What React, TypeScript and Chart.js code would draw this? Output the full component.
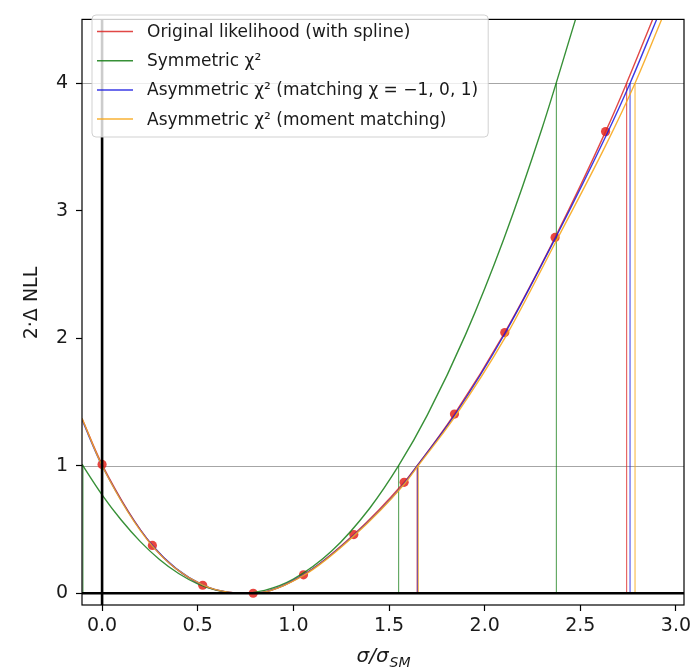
import React, { useEffect, useRef } from 'react';
import { Chart, registerables } from 'chart.js';
Chart.register(...registerables);

// ---- axis ranges & ticks ----
const xRange = [-0.105, 3.042];
const yRange = [-0.092, 4.5];
const xTicks = [0, 0.5, 1, 1.5, 2, 2.5, 3];
const xTickLabels = ['0.0', '0.5', '1.0', '1.5', '2.0', '2.5', '3.0'];
const yTicks = [0, 1, 2, 3, 4];
const yTickLabels = ['0', '1', '2', '3', '4'];
const refLevels = [1, 4];

// ---- data ----
const dotX = [0, 0.263, 0.526, 0.79, 1.053, 1.316, 1.579, 1.842, 2.105, 2.368, 2.632];
const dotY = [1.01, 0.375, 0.063, 0.0, 0.145, 0.46, 0.87, 1.405, 2.045, 2.79, 3.62];

const redX = [-0.105, 0, 0.263, 0.526, 0.79, 1.053, 1.316, 1.579, 1.647, 1.842, 2.105, 2.368, 2.632, 2.742, 2.878];
const redY = [1.37, 1.01, 0.375, 0.063, 0, 0.145, 0.46, 0.87, 1.0, 1.405, 2.045, 2.79, 3.62, 4.0, 4.5];

const greenX = [-0.105, -0.1, 0, 0.1, 0.2, 0.3, 0.4, 0.5, 0.6, 0.725, 0.85, 1.0, 1.2, 1.4, 1.55, 1.7, 1.9, 2.1, 2.3, 2.475];
const greenY = [1.012, 1.0, 0.772, 0.574, 0.405, 0.265, 0.155, 0.074, 0.023, 0, 0.023, 0.111, 0.331, 0.669, 1.0, 1.397, 2.028, 2.778, 3.646, 4.5];

const blueX = [-0.105, 0, 0.263, 0.526, 0.79, 1.053, 1.316, 1.579, 1.648, 1.842, 2.105, 2.368, 2.632, 2.76, 2.899];
const blueY = [1.36, 1.0, 0.375, 0.065, 0, 0.145, 0.455, 0.86, 1.0, 1.395, 2.035, 2.78, 3.58, 4.0, 4.5];

const orangeX = [-0.105, 0, 0.263, 0.526, 0.79, 1.053, 1.316, 1.579, 1.652, 1.842, 2.105, 2.368, 2.632, 2.786, 2.925];
const orangeY = [1.37, 1.0, 0.37, 0.065, 0, 0.14, 0.45, 0.855, 1.0, 1.38, 2.0, 2.745, 3.51, 4.0, 4.5];

// crossing markers (vertical lines from 0 up to level)
const greenCrossX = [-0.1, 1.55, 2.375];
const greenCrossLevel = [1, 1, 4];
const redCrossX = [0.0, 1.647, 2.742];
const redCrossLevel = [1, 1, 4];
const blueCrossX = [0.0, 1.649, 2.76];
const blueCrossLevel = [1, 1, 4];
const orangeCrossX = [0.0, 1.653, 2.786];
const orangeCrossLevel = [1, 1, 4];

const legendLabels = [
  'Original likelihood (with spline)',
  'Symmetric χ²',
  'Asymmetric χ² (matching χ = −1, 0, 1)',
  'Asymmetric χ² (moment matching)',
];

const RED = 'rgba(220,40,38,0.85)';
const GREEN = 'rgba(20,125,20,0.85)';
const BLUE = 'rgba(25,25,225,0.85)';
const ORANGE = 'rgba(247,168,30,0.9)';
const legendColors = [RED, GREEN, BLUE, ORANGE];
const FONT = '"DejaVu Sans", sans-serif';

const pts = (xs: number[], ys: number[]) => xs.map((x, i) => ({ x, y: ys[i] }));
const verts = (xs: number[], lv: number[]) => {
  const out: any[] = [];
  xs.forEach((x, i) => {
    out.push({ x, y: 0 }, { x, y: lv[i] }, { x, y: null });
  });
  return out;
};

const decor = {
  id: 'decor',
  beforeDatasetsDraw(chart: any) {
    const { ctx, chartArea: a, scales } = chart;
    ctx.save();
    ctx.strokeStyle = '#a6a6a6';
    ctx.lineWidth = 1;
    refLevels.forEach((v) => {
      const y = Math.round(scales.y.getPixelForValue(v)) + 0.5;
      ctx.beginPath();
      ctx.moveTo(a.left, y);
      ctx.lineTo(a.right, y);
      ctx.stroke();
    });
    ctx.restore();
  },
  afterDatasetsDraw(chart: any) {
    const { ctx, chartArea: a, scales } = chart;
    ctx.save();
    // thick axes lines at 0
    ctx.strokeStyle = '#000';
    ctx.lineWidth = 2.6;
    const y0 = scales.y.getPixelForValue(0);
    const x0 = scales.x.getPixelForValue(0);
    ctx.beginPath();
    ctx.moveTo(a.left, y0);
    ctx.lineTo(a.right, y0);
    ctx.moveTo(x0, a.top);
    ctx.lineTo(x0, a.bottom);
    ctx.stroke();
    // frame
    ctx.lineWidth = 1.2;
    ctx.strokeRect(a.left, a.top, a.right - a.left, a.bottom - a.top);

    // legend
    ctx.font = `17px ${FONT}`;
    const bx = 92, by = 15, rowY0 = 31.5, dy = 29.2;
    let maxW = 0;
    legendLabels.forEach((t) => { maxW = Math.max(maxW, ctx.measureText(t).width); });
    const bw = 147 + maxW + 10 - bx;
    const bh = 122;
    ctx.beginPath();
    ctx.roundRect(bx, by, bw, bh, 4);
    ctx.fillStyle = 'rgba(255,255,255,0.8)';
    ctx.fill();
    ctx.strokeStyle = 'rgba(204,204,204,0.9)';
    ctx.lineWidth = 1;
    ctx.stroke();
    legendLabels.forEach((t, i) => {
      const yy = rowY0 + i * dy;
      ctx.strokeStyle = legendColors[i];
      ctx.lineWidth = 1.5;
      ctx.beginPath();
      ctx.moveTo(97, yy);
      ctx.lineTo(133, yy);
      ctx.stroke();
      ctx.fillStyle = '#1a1a1a';
      ctx.textAlign = 'left';
      ctx.textBaseline = 'middle';
      ctx.fillText(t, 147, yy + 1);
    });

    // y title
    ctx.save();
    ctx.translate(32, 303);
    ctx.rotate(-Math.PI / 2);
    ctx.font = `19px ${FONT}`;
    ctx.fillStyle = '#1a1a1a';
    ctx.textAlign = 'center';
    ctx.textBaseline = 'middle';
    ctx.fillText('2·Δ NLL', 0, 0);
    ctx.restore();

    // x title  σ/σ_SM
    const main = 'σ/σ';
    const sub = 'SM';
    ctx.font = `italic 20px ${FONT}`;
    const wm = ctx.measureText(main).width;
    ctx.font = `italic 14px ${FONT}`;
    const ws = ctx.measureText(sub).width;
    const cx = (a.left + a.right) / 2;
    const sx = cx - (wm + ws) / 2;
    ctx.fillStyle = '#1a1a1a';
    ctx.textAlign = 'left';
    ctx.textBaseline = 'alphabetic';
    ctx.font = `italic 20px ${FONT}`;
    ctx.fillText(main, sx, 662);
    ctx.font = `italic 14px ${FONT}`;
    ctx.fillText(sub, sx + wm + 1, 667);
    ctx.restore();
  },
};

export default function App() {
  const ref = useRef<HTMLCanvasElement | null>(null);
  useEffect(() => {
    if (!ref.current) return;
    const lineBase = { pointRadius: 0, borderWidth: 1.4, cubicInterpolationMode: 'monotone' as const, fill: false };
    const vertBase = { pointRadius: 0, borderWidth: 1.2, tension: 0, spanGaps: false, fill: false };
    const chart = new Chart(ref.current, {
      type: 'line',
      data: {
        datasets: [
          { label: 'dots', data: pts(dotX, dotY), showLine: false, pointRadius: 4.6, pointBackgroundColor: 'rgba(228,38,30,0.85)', pointBorderWidth: 0, borderColor: 'transparent', order: 10 } as any,
          { label: 'gv', data: verts(greenCrossX, greenCrossLevel), borderColor: 'rgba(20,125,20,0.65)', ...vertBase, order: 9.4 },
          { label: 'rv', data: verts(redCrossX, redCrossLevel), borderColor: 'rgba(220,40,38,0.7)', ...vertBase, order: 9.3 },
          { label: 'bv', data: verts(blueCrossX, blueCrossLevel), borderColor: 'rgba(25,25,225,0.7)', ...vertBase, order: 9.2 },
          { label: 'ov', data: verts(orangeCrossX, orangeCrossLevel), borderColor: 'rgba(247,168,30,0.75)', ...vertBase, order: 9.1 },
          { label: legendLabels[0], data: pts(redX, redY), borderColor: RED, ...lineBase, order: 8 },
          { label: legendLabels[1], data: pts(greenX, greenY), borderColor: GREEN, ...lineBase, order: 7 },
          { label: legendLabels[2], data: pts(blueX, blueY), borderColor: BLUE, ...lineBase, order: 6 },
          { label: legendLabels[3], data: pts(orangeX, orangeY), borderColor: ORANGE, ...lineBase, order: 5 },
        ],
      },
      options: {
        responsive: false,
        animation: false,
        events: [],
        layout: { padding: { top: 8, right: 12, left: 0, bottom: 0 } },
        plugins: { legend: { display: false }, tooltip: { enabled: false } },
        scales: {
          x: {
            type: 'linear',
            min: xRange[0],
            max: xRange[1],
            afterBuildTicks: (s: any) => { s.ticks = xTicks.map((v) => ({ value: v })); },
            afterFit: (s: any) => { s.height = 66; },
            ticks: {
              callback: (v: any, i: number) => xTickLabels[i],
              color: '#1a1a1a',
              font: { family: FONT, size: 19 },
              padding: 4,
              maxRotation: 0,
              autoSkip: false,
            },
            grid: { drawOnChartArea: false, drawTicks: true, tickLength: 6, tickColor: '#000', tickWidth: 1.2 },
            border: { display: false },
          },
          y: {
            type: 'linear',
            min: yRange[0],
            max: yRange[1],
            afterBuildTicks: (s: any) => { s.ticks = yTicks.map((v) => ({ value: v })); },
            afterFit: (s: any) => { s.width = 82; },
            ticks: {
              callback: (v: any, i: number) => yTickLabels[i],
              color: '#1a1a1a',
              font: { family: FONT, size: 19 },
              padding: 8,
              autoSkip: false,
            },
            grid: { drawOnChartArea: false, drawTicks: true, tickLength: 6, tickColor: '#000', tickWidth: 1.2 },
            border: { display: false },
          },
        },
      },
      plugins: [decor],
    });
    return () => chart.destroy();
  }, []);
  return (
    <div style={{ position: 'absolute', left: 0, top: 0, width: 696, height: 671, background: '#fff' }}>
      <canvas ref={ref} width={696} height={671} style={{ display: 'block' }} />
    </div>
  );
}
